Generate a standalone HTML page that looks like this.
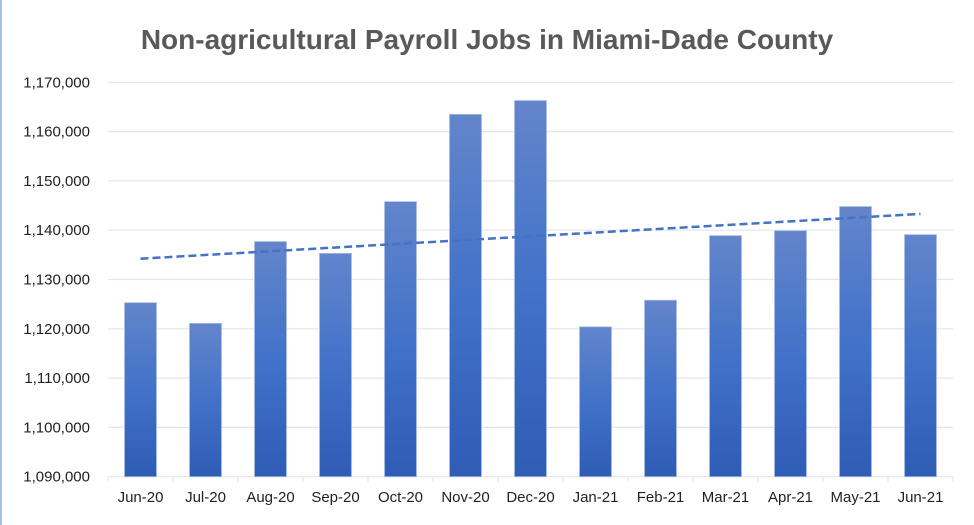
<!DOCTYPE html>
<html><head><meta charset="utf-8"><style>
body{margin:0;background:#fff;}
#wrap{position:relative;width:974px;height:525px;overflow:hidden;border-left:2px solid #a9c0e8;box-sizing:border-box;}
text{font-family:"Liberation Sans",Calibri,sans-serif;}
</style></head><body>
<div id="wrap">
<svg id="chart" width="974" height="525" style="position:absolute;left:-2px;top:0">
<defs><linearGradient id="g" x1="0" y1="0" x2="0" y2="1">
<stop offset="0" stop-color="#6385cb"/><stop offset="0.5" stop-color="#4272c9"/><stop offset="1" stop-color="#2f5cb5"/></linearGradient></defs>
<text x="487" y="49" text-anchor="middle" font-size="28" font-weight="bold" fill="#595959">Non-agricultural Payroll Jobs in Miami-Dade County</text>
</svg>
</div>
<script>
const categories=["Jun-20","Jul-20","Aug-20","Sep-20","Oct-20","Nov-20","Dec-20","Jan-21","Feb-21","Mar-21","Apr-21","May-21","Jun-21"];
const values=[1125300,1121100,1137700,1135300,1145800,1163500,1166300,1120400,1125800,1138900,1139900,1144800,1139100];
const yTicks=[1090000,1100000,1110000,1120000,1130000,1140000,1150000,1160000,1170000];
const yMin=1090000,yMax=1170000,plotTop=82.3,plotBottom=476.7,plotLeft=108,plotRight=953;
const NS="http://www.w3.org/2000/svg";const svg=document.getElementById('chart');
const y=v=>plotBottom-(v-yMin)/(yMax-yMin)*(plotBottom-plotTop);
const band=(plotRight-plotLeft)/categories.length;
const xc=i=>plotLeft+band*(i+0.5);
function mk(t,a){const e=document.createElementNS(NS,t);for(const k in a)e.setAttribute(k,a[k]);svg.appendChild(e);return e;}
yTicks.forEach(v=>{
 const l=mk('line',{x1:plotLeft,x2:plotRight,y1:y(v),y2:y(v),stroke:'#e3e5ea','stroke-width':1.2});
 
 
 const t=mk('text',{x:90,y:y(v)+5,'text-anchor':'end','font-size':15,fill:'#222'});
 t.textContent=v.toLocaleString('en-US');
 
 
});
for(let i=0;i<=categories.length;i++){
 const tk=mk('line',{x1:plotLeft+band*i,x2:plotLeft+band*i,y1:plotBottom,y2:plotBottom+5,stroke:'#e3e5ea','stroke-width':1.2});
 
 
}
const bw=32;
values.forEach((v,i)=>{
 const r=mk('rect',{x:xc(i)-bw/2,y:y(v),width:bw,height:plotBottom-y(v),fill:'url(#g)',stroke:'#a9bde6','stroke-width':0.8});
 
 
 const t=mk('text',{x:xc(i),y:502,'text-anchor':'middle','font-size':15,fill:'#222'});
 t.textContent=categories[i];
 
 
});
const n=values.length;let sx=0,sy=0,sxy=0,sxx=0;
values.forEach((v,i)=>{sx+=i;sy+=v;sxy+=i*v;sxx+=i*i;});
const m=(n*sxy-sx*sy)/(n*sxx-sx*sx),b=(sy-m*sx)/n;
const tl=mk('line',{x1:xc(0),y1:y(b),x2:xc(n-1),y2:y(b+m*(n-1)),stroke:'#4472c4','stroke-width':2.5,'stroke-dasharray':'8,4'});


</script>
</body></html>
